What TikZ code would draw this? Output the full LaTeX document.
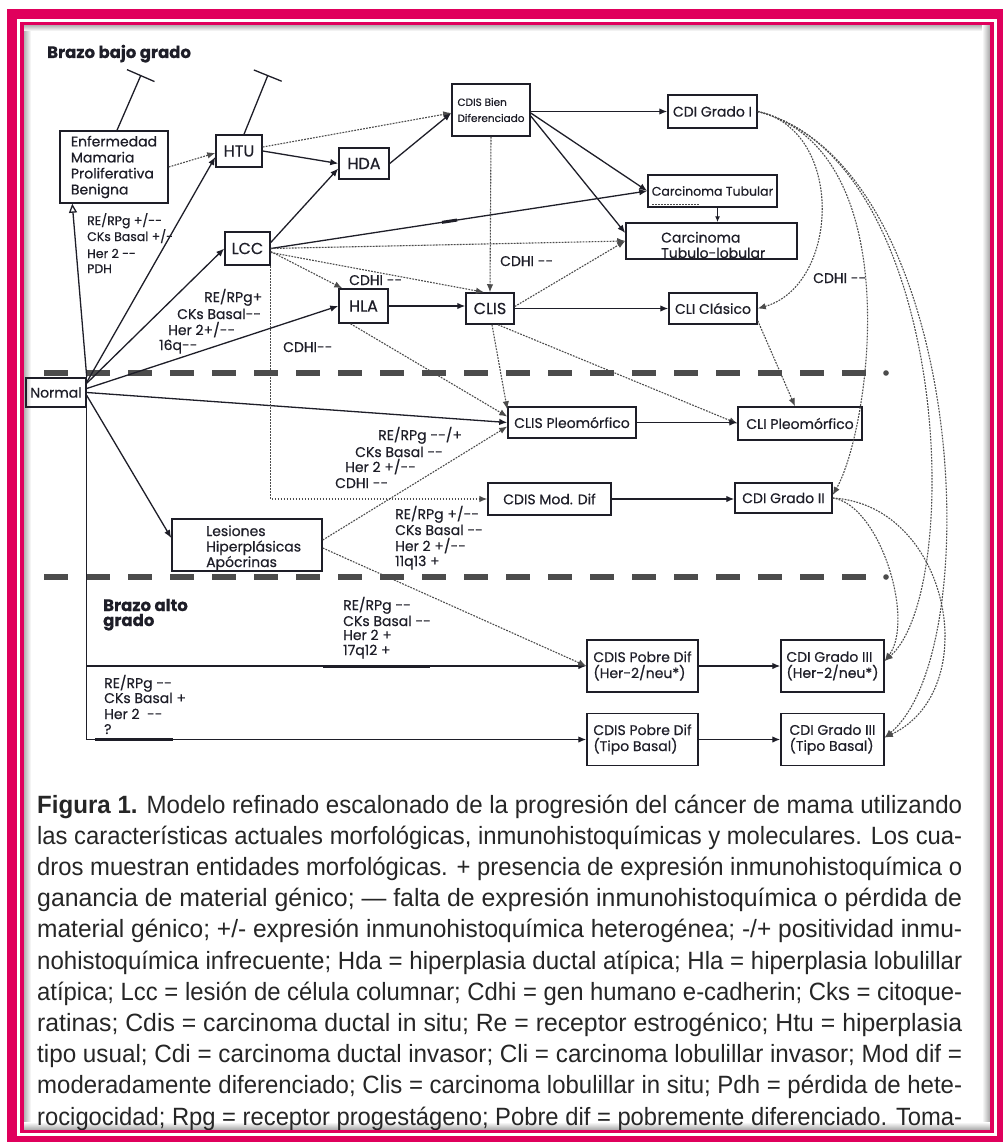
\documentclass[tikz,border=0pt]{standalone}
\usepackage{fontspec}
\usepackage{graphicx}
\setmainfont{Poppins}[FakeBold=0.5]
\newfontfamily\capfont{Liberation Sans}
\usetikzlibrary{arrows.meta,calc}
\definecolor{mag}{HTML}{E0005C}
\definecolor{ink}{HTML}{1E1E28}
\newcommand\mm{-{}-}
\newcommand\capline[1]{\resizebox{925pt}{\height}{#1}}
\begin{document}
\begin{tikzpicture}[x=1pt,y=-1pt,
  bx/.style={draw=ink, line width=1.5pt, inner sep=0pt, text=ink, font=\fontsize{14}{16}\selectfont},
  big/.style={font=\fontsize{16}{18}\selectfont},
  txt/.style={inner sep=0pt, text=ink, font=\fontsize{14}{15.5}\selectfont},
  lbl/.style={inner sep=0pt, text=ink, anchor=base west, font=\fontsize{14}{16}\selectfont},
  lbls/.style={lbl, font=\fontsize{12.5}{15}\selectfont},
  ttl/.style={lbl, font=\fontsize{16.5}{18}\selectfont\bfseries},
  sol/.style={draw=ink, line width=1.3pt},
  arr/.style={sol, -{Latex[length=8pt,width=6.5pt]}},
  dot/.style={draw=black!70, line width=1.1pt, dash pattern=on 1.8pt off 1.2pt},
  darr/.style={dot, -{Latex[length=8pt,width=6.5pt]}},
  tbar/.style={sol, -{Bar[width=30pt,line width=1.3pt]}},
  sep/.style={draw=black!70, line width=6pt, dash pattern=on 24pt off 18pt},
  capn/.style={inner sep=0pt, anchor=base west, text=black!85, font=\capfont\fontsize{25}{28}\selectfont},
]
\useasboundingbox (0,0) rectangle (1002,1142);
\fill[white] (0,0) rectangle (1002,1142);
% inner shadows
\shade[left color=black!30, right color=white] (24,25) rectangle (31,1130);
\shade[top color=black!30, bottom color=white] (24,25) rectangle (990,31);
\shade[left color=white, right color=black!35] (982,25) rectangle (990,1130);
\shade[top color=white, bottom color=black!35] (24,1122) rectangle (990,1130);

% separators
\draw[sep] (44,373) -- (866,373);
\fill[black!70] (886,373) circle (2.8);
\draw[sep] (44,577) -- (866,577);
\fill[black!70] (886,577) circle (2.8);

% boxes
\node[bx, minimum width=108pt, minimum height=72pt, align=left] (enf) at (114,167) {Enfermedad\\Mamaria\\Proliferativa\\Benigna};
\node[bx, big, minimum width=46pt, minimum height=32pt] (htu) at (239,151) {HTU};
\node[bx, big, minimum width=45pt, minimum height=33pt] (lcc) at (247.5,248.5) {LCC};
\node[bx, minimum width=60pt, minimum height=29pt] (normal) at (56,392.5) {Normal};
\node[bx, big, minimum width=50pt, minimum height=31pt] (hda) at (364,163.5) {HDA};
\node[bx, minimum width=78pt, minimum height=52pt, align=left, font=\fontsize{10.5}{16}\selectfont] (cdisb) at (491,110) {CDIS Bien\\Diferenciado};
\node[bx, minimum width=89pt, minimum height=33pt] (cdi1) at (712.5,111.5) {CDI Grado I};
\node[bx, minimum width=129pt, minimum height=32pt, font=\fontsize{12.5}{15}\selectfont] (ctub) at (712.5,191) {Carcinoma Tubular};
\node[bx, minimum width=171pt, minimum height=36pt] (ctl) at (711.5,241) {};
\node[txt, anchor=west, align=left] (ctltxt) at (661,245) {Carcinoma\\Tubulo-lobular};
\node[bx, big, minimum width=49pt, minimum height=34pt] (hla) at (363.5,306) {HLA};
\node[bx, big, minimum width=48pt, minimum height=31pt] (clis) at (490,308.5) {CLIS};
\node[bx, minimum width=88pt, minimum height=31pt] (clic) at (713,308.5) {CLI Clásico};
\node[bx, minimum width=128pt, minimum height=31pt] (clisp) at (572,422.5) {CLIS Pleomórfico};
\node[bx, minimum width=124pt, minimum height=33pt] (clip) at (800,423.5) {CLI Pleomórfico};
\node[bx, minimum width=123pt, minimum height=32pt] (cdism) at (549.5,499) {CDIS Mod. Dif};
\node[bx, minimum width=97pt, minimum height=30pt] (cdi2) at (783.5,498) {CDI Grado II};
\node[bx, minimum width=150pt, minimum height=52pt] (les) at (247,545) {};
\node[txt, anchor=west, align=left] (lestxt) at (206,548) {Lesiones\\Hiperplásicas\\Apócrinas};
\node[bx, minimum width=111pt, minimum height=52pt, align=left] (cdisph) at (642.5,666) {CDIS Pobre Dif\\(Her-2/neu*)};
\node[bx, minimum width=103pt, minimum height=52pt, align=left] (cdi3h) at (832.5,666) {CDI Grado III\\(Her-2/neu*)};
\node[bx, minimum width=111pt, minimum height=52pt, align=left] (cdispb) at (642.5,739.5) {CDIS Pobre Dif\\(Tipo Basal)};
\node[bx, minimum width=103pt, minimum height=52pt, align=left] (cdi3b) at (832.5,739.5) {CDI Grado III\\(Tipo Basal)};

% T-bars
\coordinate (tb1) at (141,75);
\coordinate (tb2) at (268,75);
\draw[tbar] ([xshift=3pt]enf.north) -- (tb1);
\draw[tbar] ([xshift=5pt]htu.north) -- (tb2);

% from Normal
\draw[sol, -{Triangle[open,length=9pt,width=8pt]}] (normal.north east) -- ([xshift=13pt]enf.south west);
\draw[arr] ([yshift=-5pt]normal.north east) -- ([yshift=-6pt]htu.west);
\draw[arr] ([yshift=-6pt]normal.north east) -- (lcc.west);
\draw[arr] ([yshift=4pt]normal.east) -- (hla.west);
\draw[arr] (normal.east) -- (clisp.west);
\draw[arr] ([yshift=-3pt]normal.east) -- ([yshift=7pt]les.west);
\draw[arr] (normal.south east) |- (cdispb.west);
\draw[arr] (normal.south east |- cdisph.west) -- (cdisph.west);
\draw[line width=3pt, ink] (323,666) -- (430,666);
\draw[line width=3pt, ink] (95,739.5) -- (173,739.5);

% low grade arm
\draw[darr] (enf.east) -- ([yshift=-2pt]htu.west);
\draw[arr] (htu.east) -- (hda.west);
\draw[darr] ([yshift=4pt]htu.east) -- ([yshift=-3pt]cdisb.west);
\draw[arr] ([yshift=6pt]lcc.east) -- ([yshift=-5pt]hda.west);
\draw[arr] (hda.east) -- ([yshift=-3pt]cdisb.west);
\draw[arr] (lcc.east) -- (ctub.west);
\draw[line width=3pt, ink] ($(lcc.east)!0.455!(ctub.west)$) -- ($(lcc.east)!0.495!(ctub.west)$);
\draw[darr] (lcc.east) -- (ctl.west);
\draw[darr] ([yshift=-3pt]lcc.east) -- ([xshift=4pt]hla.north west);
\draw[darr] ([yshift=-4pt]lcc.east) -- ([xshift=-6pt]clis.north);
\draw[darr] (lcc.south east) |- (cdism.west);
\draw[arr] (cdisb.east |- cdi1.west) -- (cdi1.west);
\draw[arr] ([yshift=-3pt]cdisb.east) -- (ctub.west);
\draw[arr] ([yshift=-6pt]cdisb.east) -- ([yshift=8pt]ctl.west);
\draw[darr] (cdisb.south) -- (clis.north);
\coordinate (ct1) at ([xshift=5pt]ctub.south);
\draw[sol, -{Latex[length=6pt,width=5pt]}] (ct1) -- (ct1 |- ctl.north);
\draw[dot] ([xshift=5pt,yshift=3pt]ctub.south west) -- ([xshift=52pt,yshift=3pt]ctub.south west);
\draw[arr] (hla.east) -- (hla.east -| clis.west);
\draw[arr] (clis.east) -- (clic.west);
\draw[darr] ([yshift=2pt]clis.east) -- (ctl.west);
\draw[darr] ([xshift=-13pt]hla.south) -- ([yshift=6pt]clisp.west);
\draw[darr] ([xshift=2pt]clis.south) -- ([yshift=-3pt]clisp.north west);
\draw[darr] ([xshift=8pt]clis.south) -- (clip.west);
\draw[darr] ([yshift=4pt]clic.south east) -- ([xshift=-5pt]clip.north);
\draw[arr] (clisp.east) -- (clisp.east -| clip.west);
\draw[arr] (cdism.east) -- (cdism.east -| cdi2.west);
\draw[darr] ([yshift=5pt]les.east) -- ([yshift=-4pt]clisp.west);
\draw[darr] ([yshift=-3pt]les.east) -- (cdisph.west);
\draw[arr] (cdisph.east) -- (cdi3h.west);
\draw[arr] (cdispb.east) -- (cdi3b.west);

% curves
\draw[darr] (cdi1.east) .. controls (845,130) and (840,285) .. (clic.east);
\draw[darr] (cdi1.east) .. controls (910,150) and (870,430) .. ([yshift=3pt]cdi2.east);
\draw[darr] (cdi1.east) .. controls (950,160) and (965,590) .. ([yshift=5pt]cdi3h.east);
\draw[darr] (cdi1.east) .. controls (965,165) and (990,650) .. ([yshift=2pt]cdi3b.east);
\draw[darr] (cdi2.east) .. controls (880,505) and (915,620) .. ([yshift=5pt]cdi3h.east);
\draw[darr] (cdi2.east) .. controls (950,505) and (985,690) .. ([yshift=2pt]cdi3b.east);

% labels
\node[ttl] (t1) at (47,58) {Brazo bajo grado};
\node[lbls] (p1) at (87,225) {RE/RPg +/\mm};
\node[lbls] (p2) at (87,241) {CKs Basal +/-};
\node[lbls] (p3) at (87,258) {Her 2 \mm};
\node[lbls] (p4) at (87,273) {PDH};
\node[lbl] (q1) at (204,302) {RE/RPg+};
\node[lbl] (q2) at (177,319) {CKs Basal\mm};
\node[lbl] (q3) at (168,335) {Her 2+/\mm};
\node[lbl] (q4) at (159,350) {16q\mm};
\node[lbl] (c1) at (283,352) {CDHI\mm};
\node[lbl] (c2) at (349,285) {CDHI \mm};
\node[lbl] (c3) at (500,266) {CDHI \mm};
\node[lbl] (c4) at (813,283) {CDHI \mm};
\node[lbl] (r1) at (378,440) {RE/RPg \mm/+};
\node[lbl] (r2) at (355,457) {CKs Basal \mm};
\node[lbl] (r3) at (345,472) {Her 2 +/\mm};
\node[lbl] (r4) at (335,488) {CDHI \mm};
\node[lbl] (s1) at (395,519) {RE/RPg +/\mm};
\node[lbl] (s2) at (395,535) {CKs Basal \mm};
\node[lbl] (s3) at (395,551) {Her 2 +/\mm};
\node[lbl] (s4) at (395,566) {11q13 +};
\node[ttl] (t2) at (103,611) {Brazo alto};
\node[ttl] (t3) at (103,626) {grado};
\node[lbl] (u1) at (343,610) {RE/RPg \mm};
\node[lbl] (u2) at (343,626) {CKs Basal \mm};
\node[lbl] (u3) at (343,640) {Her 2 +};
\node[lbl] (u4) at (343,655) {17q12 +};
\node[lbl] (v1) at (104,688) {RE/RPg \mm};
\node[lbl] (v2) at (104,703) {CKs Basal +};
\node[lbl] (v3) at (104,719) {Her 2 ~\mm};
\node[lbl] (v4) at (104,734) {?};

% caption
\node[capn] (k1) at (37,813) {\capline{\textbf{Figura 1.} Modelo refinado escalonado de la progresión del cáncer de mama utilizando}};
\node[capn] (k2) at (37,844.2) {\capline{las características actuales morfológicas, inmunohistoquímicas y moleculares. Los cua-}};
\node[capn] (k3) at (37,875.4) {\capline{dros muestran entidades morfológicas. + presencia de expresión inmunohistoquímica o}};
\node[capn] (k4) at (37,906.6) {\capline{ganancia de material génico; — falta de expresión inmunohistoquímica o pérdida de}};
\node[capn] (k5) at (37,937.8) {\capline{material génico; +/- expresión inmunohistoquímica heterogénea; -/+ positividad inmu-}};
\node[capn] (k6) at (37,969) {\capline{nohistoquímica infrecuente; Hda = hiperplasia ductal atípica; Hla = hiperplasia lobulillar}};
\node[capn] (k7) at (37,1000.2) {\capline{atípica; Lcc = lesión de célula columnar; Cdhi = gen humano e-cadherin; Cks = citoque-}};
\node[capn] (k8) at (37,1031.4) {\capline{ratinas; Cdis = carcinoma ductal in situ; Re = receptor estrogénico; Htu = hiperplasia}};
\node[capn] (k9) at (37,1062.6) {\capline{tipo usual; Cdi = carcinoma ductal invasor; Cli = carcinoma lobulillar invasor; Mod dif =}};
\node[capn] (k10) at (37,1093.8) {\capline{moderadamente diferenciado; Clis = carcinoma lobulillar in situ; Pdh = pérdida de hete-}};
\node[capn] (k11) at (37,1125) {\capline{rocigocidad; Rpg = receptor progestágeno; Pobre dif = pobremente diferenciado. Toma-}};

% frame
\draw[mag, line width=10pt] (12,14) rectangle (1002,1141);
\draw[white, line width=3pt] (18.5,20.5) rectangle (995.5,1134.5);
\draw[mag, line width=3.5pt] (22,23.5) rectangle (992,1131.5);
\end{tikzpicture}
\end{document}
